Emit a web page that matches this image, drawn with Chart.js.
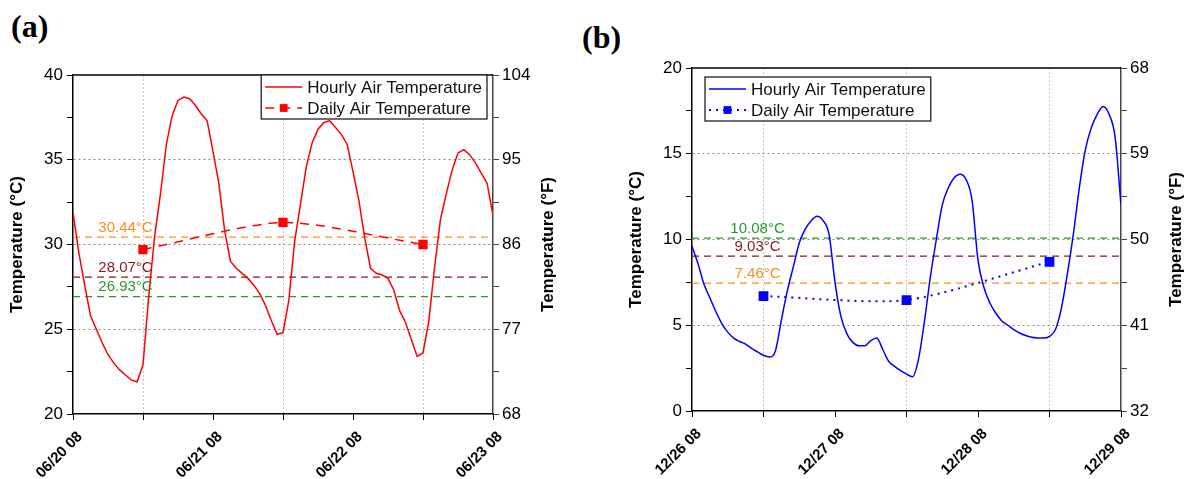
<!DOCTYPE html>
<html>
<head>
<meta charset="utf-8">
<script src="https://cdn.jsdelivr.net/npm/chart.js@4.4.0/dist/chart.umd.min.js"></script>
<style>
body { margin: 0; background: #fff; width: 1187px; height: 479px; overflow: hidden; position: relative; }
.panel { position: absolute; top: 0; height: 479px; }
.tag { position: absolute; font-family: "Liberation Serif", serif; font-weight: bold; font-size: 32px; line-height: 1; }
</style>
</head>
<body>
<div class="tag" style="left:11px;top:10px">(a)</div>
<div class="tag" style="left:582px;top:21px">(b)</div>
<div class="panel" style="left:0;width:565px"><canvas id="chartA"></canvas></div>
<div class="panel" style="left:619px;width:568px"><canvas id="chartB"></canvas></div>
<script>
// hours after 08:00 of the first day, one value per hour
const dayLabelsA = ['06/20 08', '06/21 08', '06/22 08', '06/23 08'];
const dayLabelsB = ['12/26 08', '12/27 08', '12/28 08', '12/29 08'];

const hourlyA = [
  31.9, 29.5, 27.6, 25.8, 25.0, 24.2, 23.5, 23.0, 22.6, 22.3, 22.0, 21.9,
  22.9, 27.0, 30.5, 33.0, 35.9, 37.6, 38.5, 38.7, 38.6, 38.2, 37.7, 37.3,
  35.5, 33.6, 30.8, 29.0, 28.6, 28.3, 28.0, 27.6, 27.1, 26.4, 25.5, 24.7,
  24.8, 26.7, 30.2, 32.4, 34.6, 36.0, 36.8, 37.2, 37.3, 36.9, 36.5, 35.9,
  34.3, 32.6, 30.4, 28.6, 28.3, 28.2, 28.0, 27.3, 26.1, 25.4, 24.4, 23.4,
  23.6, 25.5, 28.7, 31.5, 33.0, 34.4, 35.4, 35.6, 35.3, 34.8, 34.2, 33.6,
  31.7
];
const hourlyB = [
  9.6, 8.6, 7.4, 6.6, 5.8, 5.1, 4.6, 4.25, 4.05, 3.9, 3.65, 3.45,
  3.25, 3.15, 3.5, 5.3, 7.0, 8.4, 9.8, 10.6, 11.1, 11.35, 11.1, 10.3,
  7.5, 5.5, 4.5, 4.0, 3.8, 3.8, 4.1, 4.25, 3.6, 2.9, 2.6, 2.35,
  2.15, 2.0, 3.0, 5.2, 7.8, 10.0, 12.0, 13.0, 13.6, 13.8, 13.5, 12.3,
  8.8, 7.2, 6.3, 5.7, 5.25, 5.0, 4.75, 4.55, 4.4, 4.3, 4.26, 4.25,
  4.35, 4.75, 6.0, 8.0, 10.3, 13.0, 15.2, 16.5, 17.3, 17.75, 17.3, 16.0,
  12.0
];
const dailyHours = [12, 36, 60];
const dailyA = [29.7, 31.3, 30.0];
const dailyB = [6.7, 6.47, 8.7];
const refA = [30.44, 28.07, 26.93];
const refB = [10.08, 9.03, 7.46];

const ORANGE = '#ff8c1a', DARKRED = '#8b1a1a', GREEN = '#2a9a2a';
const FONT = '"Liberation Sans", Arial, sans-serif';
Chart.defaults.font.family = FONT;
Chart.defaults.color = '#000';

function toF(c) { return c * 9 / 5 + 32; }

const framePlugin = {
  id: 'frame',
  afterDraw(chart, args, opts) {
    const a = chart.chartArea, ctx = chart.ctx;
    ctx.save();
    ctx.strokeStyle = '#000';
    ctx.lineWidth = 1.3;
    ctx.beginPath();
    ctx.moveTo(a.left, a.top);
    ctx.lineTo(a.right, a.top);
    ctx.stroke();
    // right axis title reads bottom to top like the left one
    const s = chart.scales.yF;
    ctx.translate(s.right - opts.titleOffset, (a.top + a.bottom) / 2);
    ctx.rotate(-Math.PI / 2);
    ctx.font = 'bold 17px ' + FONT;
    ctx.fillStyle = '#000';
    ctx.textAlign = 'center';
    ctx.textBaseline = 'middle';
    ctx.fillText('Temperature (°F)', 0, 0);
    ctx.restore();
  }
};

const refLabelPlugin = {
  id: 'refLabels',
  afterDatasetsDraw(chart, args, opts) {
    const ctx = chart.ctx, x = chart.scales.x, y = chart.scales.y;
    ctx.save();
    ctx.font = '15px ' + FONT;
    ctx.textAlign = 'center';
    ctx.textBaseline = 'bottom';
    opts.values.forEach(function(v, i) {
      ctx.fillStyle = opts.colors[i];
      ctx.fillText(v.toFixed(2) + '°C', x.getPixelForValue(opts.atHour), y.getPixelForValue(v) - 2);
    });
    ctx.restore();
  }
};

const boxLegendPlugin = {
  id: 'boxLegend',
  afterDraw(chart, args, opts) {
    const ctx = chart.ctx, a = chart.chartArea;
    const items = chart.data.datasets.slice(0, 2);
    ctx.save();
    ctx.font = '17px ' + FONT;
    const textW = Math.max.apply(null, items.map(ds => ctx.measureText(ds.label).width));
    const w = 46 + textW + 5, h = 44;
    const left = opts.side === 'right' ? a.right - opts.dx - w : a.left + opts.dx;
    const top = a.top + opts.dy;
    ctx.fillStyle = '#fff';
    ctx.fillRect(left, top, w, h);
    ctx.strokeStyle = '#222';
    ctx.lineWidth = 1.3;
    ctx.strokeRect(left, top, w, h);
    ctx.textBaseline = 'middle';
    items.forEach(function(ds, i) {
      const yy = top + 12 + i * 21;
      ctx.strokeStyle = ds.borderColor;
      ctx.lineWidth = ds.borderWidth;
      ctx.setLineDash(ds.borderDash || []);
      ctx.beginPath();
      ctx.moveTo(left + 4, yy);
      ctx.lineTo(left + 41, yy);
      ctx.stroke();
      ctx.setLineDash([]);
      if (ds.pointRadius) {
        const half = ds.pointRadius * Math.SQRT1_2;
        ctx.fillStyle = ds.borderColor;
        ctx.fillRect(left + 22.5 - half, yy - half, half * 2, half * 2);
      }
      ctx.fillStyle = '#111';
      ctx.fillText(ds.label, left + 46, yy + 1);
    });
    ctx.restore();
  }
};

function makePanel(id, p) {
  const lastHour = p.hourly.length - 1;
  const fMin = toF(p.yMin), fMax = toF(p.yMax);
  const datasets = [
    {
      label: 'Hourly Air Temperature',
      data: p.hourly.map((t, h) => ({x: h, y: t})),
      borderColor: p.color, borderWidth: 1.5, pointRadius: 0,
      tension: 0, cubicInterpolationMode: p.smooth ? 'monotone' : 'default'
    },
    {
      label: 'Daily Air Temperature',
      data: dailyHours.map((h, i) => ({x: h, y: p.daily[i]})),
      borderColor: p.color, backgroundColor: p.color, borderWidth: p.dailyWidth,
      borderDash: p.dailyDash, pointStyle: 'rect', pointRadius: 5.5, tension: 0.25
    }
  ];
  p.refs.forEach(function(v, i) {
    datasets.push({
      label: 'ref' + i,
      data: [{x: 0, y: v}, {x: lastHour, y: v}],
      borderColor: p.refColors[i], borderWidth: 1.3, borderDash: [7, 5], pointRadius: 0
    });
  });

  return new Chart(document.getElementById(id), {
    type: 'line',
    data: {datasets: datasets},
    options: {
      responsive: true, maintainAspectRatio: false, animation: false,
      layout: {padding: {top: p.top, left: 0, right: 0, bottom: 0}},
      plugins: {
        legend: {display: false}, tooltip: {enabled: false},
        refLabels: {values: p.refs, colors: p.refColors, atHour: p.labelHour},
        boxLegend: p.legend,
        frame: {titleOffset: p.rightTitleOffset}
      },
      scales: {
        x: {
          type: 'linear', min: 0, max: lastHour,
          ticks: {
            stepSize: 12, autoSkip: false, minRotation: 45, maxRotation: 45, padding: 8, labelOffset: 7,
            font: {size: 15, weight: 'bold'}, color: '#000',
            callback: v => v % 24 === 0 ? p.dayLabels[v / 24] : ''
          },
          grid: {
            color: c => (c.tick && c.tick.value % 24 === 12) ? '#c8c8c8' : 'transparent',
            tickColor: '#000', tickLength: 6, tickBorderDash: [100, 0]
          },
          border: {color: '#000', width: 1.5, dash: [2, 2]},
          afterFit: s => { s.height = p.bottom; }
        },
        y: {
          position: 'left', min: p.yMin, max: p.yMax,
          ticks: {stepSize: 2.5, padding: 4, font: {size: 17}, color: '#000',
            callback: v => v % 5 === 0 ? v : ''},
          grid: {
            color: c => (c.tick && c.tick.value % 5 === 0 && c.tick.value > p.yMin && c.tick.value < p.yMax) ? '#8a8a8a' : 'transparent',
            tickColor: '#000', tickLength: 6, tickBorderDash: [100, 0]
          },
          border: {color: '#000', width: 1.5, dash: [2, 3]},
          title: {display: true, text: 'Temperature (°C)', font: {size: 17, weight: 'bold'}, color: '#000', padding: {top: 7, bottom: 0}},
          afterFit: s => { s.width = p.leftW; }
        },
        yF: {
          position: 'right', min: fMin, max: fMax,
          ticks: {stepSize: 4.5, padding: 3, font: {size: 17}, color: '#000',
            callback: v => (v - fMin) % 9 === 0 ? v : ''},
          grid: {drawOnChartArea: false, tickColor: '#444', tickLength: 6},
          border: {color: '#444', width: 1.5},
          afterFit: s => { s.width = p.rightW; }
        }
      }
    },
    plugins: [refLabelPlugin, framePlugin, boxLegendPlugin]
  });
}

makePanel('chartA', {
  hourly: hourlyA, daily: dailyA, refs: refA, refColors: [ORANGE, DARKRED, GREEN],
  dayLabels: dayLabelsA, color: '#ff0000', dailyDash: [9, 7], dailyWidth: 1.5, smooth: false,
  yMin: 20, yMax: 40, top: 75, bottom: 65, leftW: 73, rightW: 72, rightTitleOffset: 17,
  labelHour: 9, legend: {side: 'right', dx: 6, dy: 0}
});
makePanel('chartB', {
  hourly: hourlyB, daily: dailyB, refs: refB, refColors: [GREEN, DARKRED, ORANGE],
  dayLabels: dayLabelsB, color: '#0000ff', dailyDash: [2, 5], dailyWidth: 2, smooth: true,
  yMin: 0, yMax: 20, top: 68, bottom: 68, leftW: 73, rightW: 66, rightTitleOffset: 11,
  labelHour: 11, legend: {side: 'left', dx: 13, dy: 9}
});
</script>
</body>
</html>
